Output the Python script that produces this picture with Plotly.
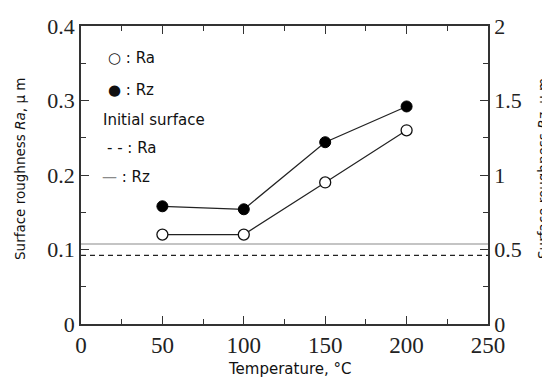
import plotly.graph_objects as go

temperature = [50, 100, 150, 200]
ra_values = [0.12, 0.12, 0.19, 0.26]
rz_values = [0.79, 0.77, 1.22, 1.46]
initial_ra = 0.092
initial_rz = 0.537
x_span = [0, 250]

OFF = 8  # default page body margin
W, H = 550 - OFF, 379 - OFF
L = 81 - OFF
T = 26 - OFF
R = W - (488 - OFF)
B = H - (324 - OFF)
pw = W - L - R
ph = H - T - B

def px(x):
    return (x - OFF - L) / pw

def py(y):
    return (H - B - (y - OFF)) / ph

fig = go.Figure()

fig.add_trace(go.Scatter(x=x_span, y=[initial_ra, initial_ra], mode="lines",
                         line=dict(color="#222", width=1.3, dash="5px,4px"),
                         showlegend=False, hoverinfo="skip"))
fig.add_trace(go.Scatter(x=x_span, y=[initial_rz, initial_rz], mode="lines", yaxis="y2",
                         line=dict(color="#8a8a8a", width=1.2),
                         showlegend=False, hoverinfo="skip"))
fig.add_trace(go.Scatter(x=temperature, y=ra_values, mode="lines+markers",
                         line=dict(color="#222", width=1.2),
                         marker=dict(size=11, color="white", line=dict(color="#111", width=1.3)),
                         showlegend=False))
fig.add_trace(go.Scatter(x=temperature, y=rz_values, mode="lines+markers", yaxis="y2",
                         line=dict(color="#222", width=1.2),
                         marker=dict(size=11, color="black", line=dict(color="black", width=1)),
                         showlegend=False))

axis_common = dict(showline=True, linecolor="#333", linewidth=1.5, ticks="inside",
                   tickcolor="#333", tickwidth=1.3, ticklen=8, showgrid=False, zeroline=False)
minor_style = dict(ticks="inside", ticklen=5, tickcolor="#333", tickwidth=1.3)

fig.update_layout(
    width=W, height=H,
    margin=dict(l=L, r=R, t=T, b=B, autoexpand=False),
    paper_bgcolor="white", plot_bgcolor="white",
    xaxis=dict(range=[0, 250], dtick=50, tick0=0, mirror="ticks",
               tickfont=dict(family="Liberation Serif", size=23, color="#222"),
               minor=dict(dtick=25, **minor_style), **axis_common),
    yaxis=dict(range=[0, 0.4], dtick=0.1, tick0=0,
               tickfont=dict(family="Liberation Serif", size=22, color="#222"),
               minor=dict(dtick=0.05, **minor_style), **axis_common),
    yaxis2=dict(range=[0, 2], dtick=0.5, tick0=0, overlaying="y", side="right",
                tickfont=dict(family="Liberation Serif", size=22, color="#222"),
                minor=dict(dtick=0.25, **minor_style), **axis_common),
)

sans = "DejaVu Sans"
ann = []
ann.append(dict(text="Temperature, °C", x=px(290), y=py(369), xref="paper", yref="paper",
                showarrow=False, font=dict(family=sans, size=15, color="#111"),
                xanchor="center", yanchor="middle"))
ann.append(dict(text="Surface roughness <i>Ra</i>, μ m", x=px(20), y=py(169), xref="paper", yref="paper",
                showarrow=False, textangle=-90, font=dict(family=sans, size=13.5, color="#111"),
                xanchor="center", yanchor="middle"))
ann.append(dict(text="Surface roughness <i>Rz</i>, μ m", x=px(543), y=py(169), xref="paper", yref="paper",
                showarrow=False, textangle=-90, font=dict(family=sans, size=13.5, color="#111"),
                xanchor="center", yanchor="middle"))

legend_items = [
    ("○ : Ra", 106, 58),
    ("● : Rz", 106, 90),
    ("Initial surface", 101, 120),
    ("- - : Ra", 105, 148),
]
for txt, x, y in legend_items:
    ann.append(dict(text=txt, x=px(x), y=py(y), xref="paper", yref="paper", showarrow=False,
                    font=dict(family=sans, size=15, color="#111"), xanchor="left", yanchor="middle"))
ann.append(dict(text="<span style='color:#8a8a8a'>—</span> : Rz", x=px(100), y=py(177), xref="paper",
                yref="paper", showarrow=False, font=dict(family=sans, size=15, color="#111"),
                xanchor="left", yanchor="middle"))
fig.update_layout(annotations=ann)

fig.write_html("out.html")
